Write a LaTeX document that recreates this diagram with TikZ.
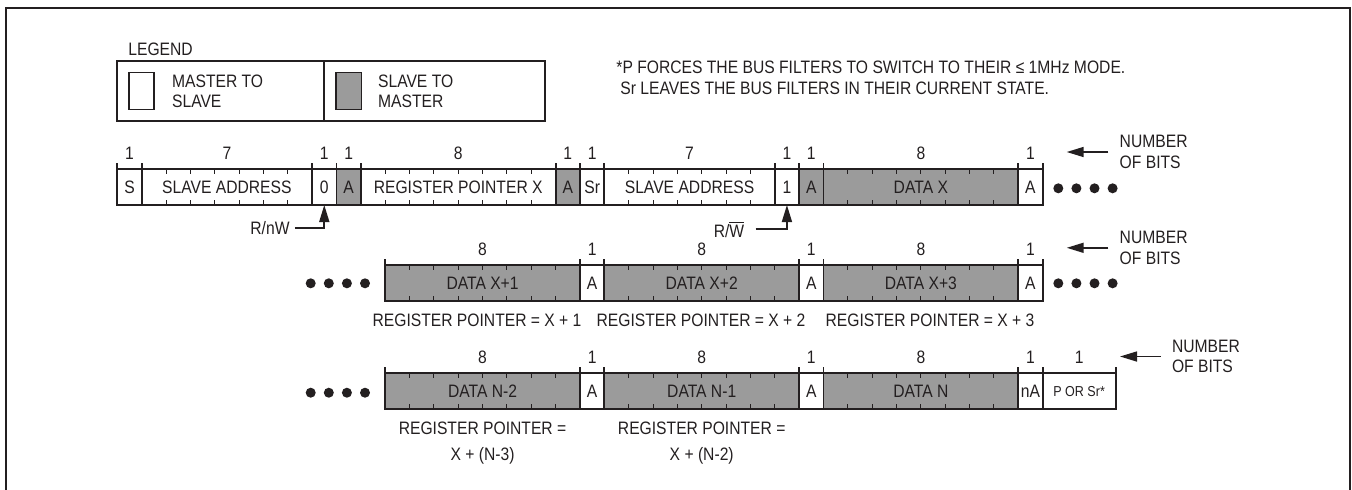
\documentclass[tikz,border=0pt]{standalone}
\usepackage{fontspec}
\setmainfont{Liberation Sans}[FakeStretch=0.87]
\usetikzlibrary{arrows.meta}

\definecolor{ink}{HTML}{231F20}
\definecolor{slavegray}{HTML}{9B9B9B}

\newcommand{\fs}{\fontsize{9}{10}\selectfont}
\newcommand{\psr}{{\fontsize{7.2}{8}\selectfont P OR Sr*}}

\tikzset{
  field/.style={draw=ink, line width=0.9pt, inner sep=0pt, outer sep=0pt,
    anchor=north west, minimum height=18pt, text=ink, font=\fs},
  bittick/.style={draw=ink, line width=0.5pt},
  edge/.style={draw=ink, line width=0.9pt},
  txt/.style={inner sep=0pt, text=ink, font=\fs},
  ptr/.style={draw=ink, line width=0.8pt, -{Triangle[length=8.5pt,width=5pt]}},
}

% one row of bit fields: name, top y, list first/width/count/fill/text
\newcommand{\bitrow}[3]{%
  \foreach \s/\w/\c/\f/\t [count=\i] in {#3} {
    \node[field, fill=\f, minimum width=\w*12.175pt] (#1-\i)
      at ({117.3+\s*24.35},#2) {\t};
    \node[txt] (#1-n\i) at ({117.3+(\s+\w/2)*24.35},#2-16) {\c};
    \draw[edge] ({117.3+\s*24.35},#2) -- ++(0,-6)
      ({117.3+(\s+\w)*24.35},#2) -- ++(0,-6);
    \ifnum\c>1
      \foreach \k in {2,...,\c} {
        \draw[bittick] ({117.3+(\s+\k-1)*24.35},#2) -- ++(0,5)
          ({117.3+(\s+\k-1)*24.35},#2+36) -- ++(0,-5);
      }
    \fi
  }%
}

\begin{document}
\begin{tikzpicture}[x=0.5pt, y=-0.5pt]
  \useasboundingbox (0,0) rectangle (1352,489);

  % frame
  \draw[ink, line width=1pt] (5.5,495) -- (5.5,7.5) -- (1350,7.5) -- (1350,495);

  % legend
  \node[txt, anchor=west] (legend) at (128,49) {LEGEND};
  \node[field, minimum width=103.35pt, minimum height=30pt] (legm) at (117.3,60.7) {};
  \node[field, minimum width=110.5pt, minimum height=30pt] (legs) at (324,60.7) {};
  \node[field, line width=0.7pt, minimum width=12.5pt, minimum height=18.3pt] (sqm) at (129,72.7) {};
  \node[field, line width=0.7pt, fill=slavegray, minimum width=12.8pt, minimum height=18.3pt] (sqs) at (336,72.7) {};
  \node[txt, anchor=west, align=left] (mts) at (171.7,91.7) {MASTER TO\\SLAVE};
  \node[txt, anchor=west, align=left] (stm) at (377.7,91.7) {SLAVE TO\\MASTER};

  % footnote
  \node[txt, anchor=west] (fn1) at (616,67) {*P FORCES THE BUS FILTERS TO SWITCH TO THEIR ≤ 1MHz MODE.};
  \node[txt, anchor=west] (fn2) at (620,88) {Sr LEAVES THE BUS FILTERS IN THEIR CURRENT STATE.};

  % first row
  \bitrow{r1}{169}{0/1/1/white/S, 1/7/7/white/SLAVE ADDRESS, 8/1/1/white/0,
    9/1/1/slavegray/A, 10/8/8/white/REGISTER POINTER X, 18/1/1/slavegray/A,
    19/1/1/white/Sr, 20/7/7/white/SLAVE ADDRESS, 27/1/1/white/1,
    28/1/1/slavegray/A, 29/8/8/slavegray/DATA X, 37/1/1/white/A}

  % second row
  \bitrow{r2}{265}{11/8/8/slavegray/DATA X+1, 19/1/1/white/A,
    20/8/8/slavegray/DATA X+2, 28/1/1/white/A,
    29/8/8/slavegray/DATA X+3, 37/1/1/white/A}

  % third row
  \bitrow{r3}{373.3}{11/8/8/slavegray/DATA N-2, 19/1/1/white/A,
    20/8/8/slavegray/DATA N-1, 28/1/1/white/A,
    29/8/8/slavegray/DATA N, 37/1/1/white/nA, 38/3/1/white/\psr}

  % dots
  \foreach \d in {0,...,3} {
    \fill[ink] ({1058.3+\d*18.1},188.3) circle (2.5pt);
    \fill[ink] ({1058.3+\d*18.1},283.3) circle (2.5pt);
    \fill[ink] ({310.7+\d*18.1},283.3) circle (2.5pt);
    \fill[ink] ({310.7+\d*18.1},392.7) circle (2.5pt);
  }

  % read / write pointers
  \node[txt] (rnw) at (270,228) {R/nW};
  \draw[ptr, shorten <=2.5pt] (rnw.east) -| (r1-3.south);
  \node[txt] (rw) at (729,229) {R/$\overline{\mbox{W}}$};
  \draw[ptr, shorten <=5.5pt] (rw.east) -| (r1-9.south);

  % number of bits
  \node[txt, anchor=west, align=left, font=\fontsize{9}{10.3}\selectfont] (nb1) at (1119.3,152) {NUMBER\\OF BITS};
  \node[txt, anchor=west, align=left, font=\fontsize{9}{10.3}\selectfont] (nb2) at (1119.3,247.8) {NUMBER\\OF BITS};
  \node[txt, anchor=west, align=left, font=\fontsize{9}{10.3}\selectfont] (nb3) at (1171.6,356.5) {NUMBER\\OF BITS};
  \coordinate (nb1tip) at (1066.7,152);
  \coordinate (nb2tip) at (1066.7,247.8);
  \coordinate (nb3tip) at (1120,356.5);
  \draw[ptr, shorten <=5.5pt] (nb1.west) -- (nb1tip);
  \draw[ptr, shorten <=5.5pt] (nb2.west) -- (nb2tip);
  \draw[ptr, shorten <=5.5pt] (nb3.west) -- (nb3tip);

  % register pointer notes
  \node[txt] (rp1) at (477,320) {REGISTER POINTER = X + 1};
  \node[txt] (rp2) at (701,320) {REGISTER POINTER = X + 2};
  \node[txt] (rp3) at (930,320) {REGISTER POINTER = X + 3};
  \node[txt, align=center, font=\fontsize{9}{13}\selectfont] (rp4) at (482.5,443) {REGISTER POINTER =\\X + (N-3)};
  \node[txt, align=center, font=\fontsize{9}{13}\selectfont] (rp5) at (701.7,443) {REGISTER POINTER =\\X + (N-2)};
\end{tikzpicture}
\end{document}
